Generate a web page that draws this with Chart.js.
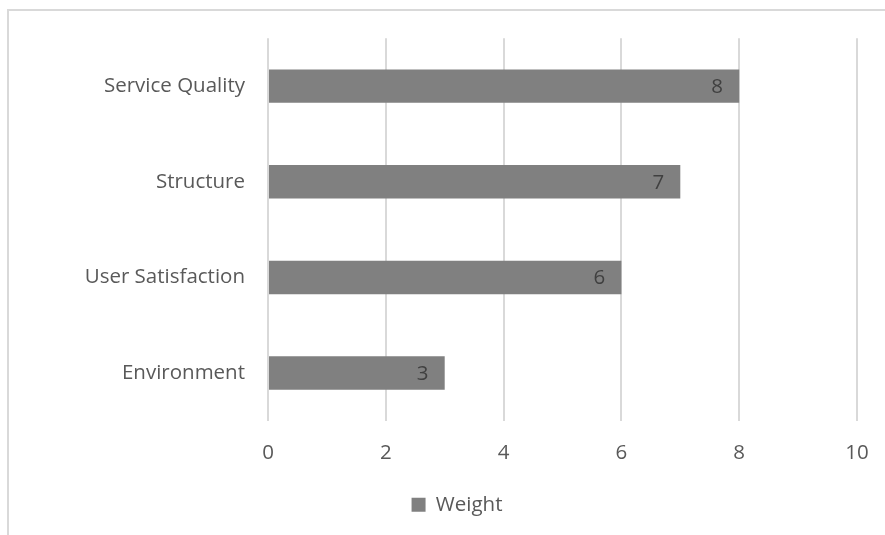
<!DOCTYPE html>
<html>
<head>
<meta charset="utf-8">
<script src="https://cdn.jsdelivr.net/npm/chart.js@4"></script>
<style>
html,body{margin:0;padding:0;background:#fff;overflow:hidden;width:885px;height:535px;}
#frame{position:absolute;left:7px;top:9px;width:900px;height:540px;border-top:2px solid #d9d9d9;border-left:2px solid #d9d9d9;box-sizing:border-box;}
#wrap{position:absolute;left:9px;top:11px;width:896px;height:524px;}
</style>
</head>
<body>
<div id="frame"></div>
<div id="wrap"><canvas id="c"></canvas></div>
<script>
const categories = ["Service Quality", "Structure", "User Satisfaction", "Environment"];
const weightValues = [8, 7, 6, 3];
const seriesName = "Weight";
const xTicks = [0, 2, 4, 6, 8, 10];

const FONT = "'Open Sans', 'Noto Sans', sans-serif";
const FS = 20.5;

const barLabels = {
  id: 'barLabels',
  afterDatasetsDraw(chart) {
    const ctx = chart.ctx;
    const meta = chart.getDatasetMeta(0);
    ctx.save();
    ctx.font = FS + "px " + FONT;
    ctx.fillStyle = "#404040";
    ctx.textAlign = "center";
    ctx.textBaseline = "middle";
    meta.data.forEach((el, i) => {
      ctx.fillText(String(chart.data.datasets[0].data[i]), el.x - 22, el.y + 1);
    });
    ctx.restore();
  }
};

new Chart(document.getElementById('c'), {
  type: 'bar',
  data: {
    labels: categories,
    datasets: [{
      label: seriesName,
      data: weightValues,
      backgroundColor: '#808080',
      borderWidth: 0,
      categoryPercentage: 1,
      barPercentage: 0.35
    }]
  },
  options: {
    indexAxis: 'y',
    responsive: true,
    maintainAspectRatio: false,
    animation: false,
    layout: { padding: { top: 27, right: 0, left: 0, bottom: 10 } },
    plugins: {
      tooltip: { enabled: false },
      legend: {
        position: 'bottom',
        labels: {
          boxWidth: 14, boxHeight: 14, color: '#595959',
          font: { family: FONT, size: FS },
          padding: 14
        }
      }
    },
    scales: {
      x: {
        min: 0, max: 10,
        afterBuildTicks: (axis) => { axis.ticks = xTicks.map(v => ({ value: v })); },
        afterFit: (axis) => { axis.height -= 5; },
        grid: { color: '#d9d9d9', lineWidth: 2, drawTicks: false },
        border: { display: false },
        ticks: { color: '#595959', font: { family: FONT, size: FS }, padding: 20 }
      },
      y: {
        afterFit: (axis) => { axis.width = 259; },
        grid: { display: false },
        border: { display: false },
        ticks: { color: '#595959', font: { family: FONT, size: FS }, padding: 15 }
      },
      yRight: {
        position: 'right',
        display: true,
        afterFit: (axis) => { axis.width = 48; },
        grid: { display: false },
        border: { display: false },
        ticks: { display: false }
      }
    }
  },
  plugins: [barLabels]
});
</script>
</body>
</html>
